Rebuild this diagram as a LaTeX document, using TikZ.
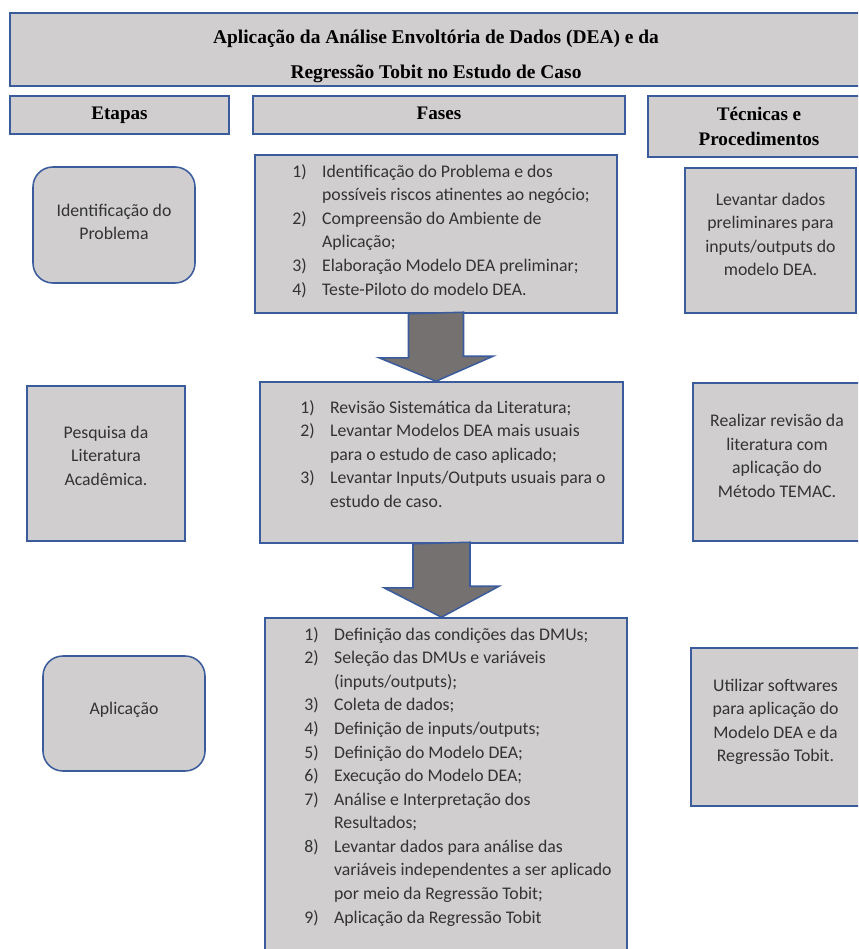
\documentclass[tikz,border=0pt]{standalone}
\usepackage{fontspec}
\setmainfont{Carlito}
\newfontfamily\titulofont{Liberation Serif}
\usepackage{xcolor}
\usepackage{tikz}
\usetikzlibrary{calc, fit, positioning}

\definecolor{cinzacaixa}{RGB}{208,206,206}
\definecolor{azulborda}{RGB}{58,92,156}
\definecolor{cinzaseta}{RGB}{118,113,113}

\newcommand{\nr}[1]{\makebox[19.5pt][l]{#1)}}
\newcommand{\cont}{\hspace*{19.5pt}}

\begin{document}
\begin{tikzpicture}[x=0.6536pt, y=-0.6536pt,
    caixa/.style={draw=azulborda, fill=cinzacaixa, line width=1pt, inner sep=0pt},
    arred/.style={caixa, rounded corners=13pt},
    cabec/.style={font=\titulofont\bfseries\fontsize{12.5}{16.3}\selectfont, align=center, inner sep=0pt},
    texto/.style={font=\fontsize{11.6}{15.4}\selectfont, text=black!80, align=center, inner sep=0pt},
    lista/.style={texto, align=left, anchor=north west},
    seta/.style={draw=azulborda, fill=cinzaseta, line width=1pt}]
    \useasboundingbox (0,0) rectangle (858,949);
    \clip (0,0) rectangle (858,949);

    % 1. Título e cabeçalhos
    \node[caixa, fit={(10,13) (862,86)}] (titulo) {};
    \node[cabec, font=\titulofont\bfseries\fontsize{12.7}{23}\selectfont] (titulot)
        at ($(titulo.center)+(0,7)$) {Aplicação da Análise Envoltória de Dados (DEA) e da\\ Regressão Tobit no Estudo de Caso};
    \node[caixa, fit={(10,96) (229,134)}] (etapas) {};
    \node[cabec, anchor=base] (etapast) at ($(etapas.center)+(0,5)$) {Etapas};
    \node[caixa, fit={(253,96) (625,134)}] (fases) {};
    \node[cabec, anchor=base] (fasest) at ($(fases.center)+(0,5)$) {Fases};
    \node[caixa, fit={(648,96) (870,157)}] (tecnicas) {};
    \node[cabec] (tecnicast) at ($(tecnicas.center)+(0,0)$) {Técnicas e\\ Procedimentos};

    % 2. Etapas
    \node[arred, fit={(33,167) (195,283)}] (etapa1) {};
    \node[texto] (etapa1t) at ($(etapa1.center)+(0,-3)$) {Identificação do\\ Problema};
    \node[caixa, fit={(27,386) (185,541)}] (etapa2) {};
    \node[texto] (etapa2t) at ($(etapa2.center)+(0,-8)$) {Pesquisa da\\ Literatura\\ Acadêmica.};
    \node[arred, fit={(43,656) (205,771)}] (etapa3) {};
    \node[texto] (etapa3t) at ($(etapa3.center)+(0,-4)$) {Aplicação};

    % 3. Fases
    \node[caixa, fit={(255,155) (617,313)}] (fase1) {};
    \node[lista] (lista1) at (292,164) {\nr{1}Identificação do Problema e dos\\
        \cont possíveis riscos atinentes ao negócio;\\
        \nr{2}Compreensão do Ambiente de\\
        \cont Aplicação;\\
        \nr{3}Elaboração Modelo DEA preliminar;\\
        \nr{4}Teste-Piloto do modelo DEA.};
    \node[caixa, fit={(260,382) (623,543)}] (fase2) {};
    \node[lista] (lista2) at (300,400) {\nr{1}Revisão Sistemática da Literatura;\\
        \nr{2}Levantar Modelos DEA mais usuais\\
        \cont para o estudo de caso aplicado;\\
        \nr{3}Levantar Inputs/Outputs usuais para o\\
        \cont estudo de caso.};
    \node[caixa, fit={(265,618) (627,975)}] (fase3) {};
    \node[lista] (lista3) at (304,627) {\nr{1}Definição das condições das DMUs;\\
        \nr{2}Seleção das DMUs e variáveis\\
        \cont(inputs/outputs);\\
        \nr{3}Coleta de dados;\\
        \nr{4}Definição de inputs/outputs;\\
        \nr{5}Definição do Modelo DEA;\\
        \nr{6}Execução do Modelo DEA;\\
        \nr{7}Análise e Interpretação dos\\
        \cont Resultados;\\
        \nr{8}Levantar dados para análise das\\
        \cont variáveis independentes a ser aplicado\\
        \cont por meio da Regressão Tobit;\\
        \nr{9}Aplicação da Regressão Tobit};

    % 4. Técnicas e procedimentos
    \node[caixa, fit={(685,168) (856,313)}] (tecnica1) {};
    \node[texto] (tecnica1t) at ($(tecnica1.center)+(0,-6)$) {Levantar dados\\ preliminares para\\ inputs/outputs do\\ modelo DEA.};
    \node[caixa, fit={(693,383) (861,541)}] (tecnica2) {};
    \node[texto] (tecnica2t) at ($(tecnica2.center)+(0,-6)$) {Realizar revisão da\\ literatura com\\ aplicação do\\ Método TEMAC.};
    \node[caixa, fit={(691,648) (860,806)}] (tecnica3) {};
    \node[texto] (tecnica3t) at ($(tecnica3.center)+(0,-5)$) {Utilizar softwares\\ para aplicação do\\ Modelo DEA e da\\ Regressão Tobit.};

    % 5. Setas entre as fases
    \coordinate (ponta1) at (fase1.south |- fase2.north);
    \draw[seta] (fase1.south) ++(-27.5,0) -- ++(0,44) -- ++(-29.5,0) -- (ponta1)
        -- ++(57,-25) -- ++(-29.5,0) -- ++(0,-44) -- cycle;
    \coordinate (ponta2) at (fase2.south |- fase3.north);
    \draw[seta] (fase2.south) ++(-28.5,0) -- ++(0,44) -- ++(-29,0) -- (ponta2)
        -- ++(57.5,-31) -- ++(-29,0) -- ++(0,-44) -- cycle;
\end{tikzpicture}
\end{document}
